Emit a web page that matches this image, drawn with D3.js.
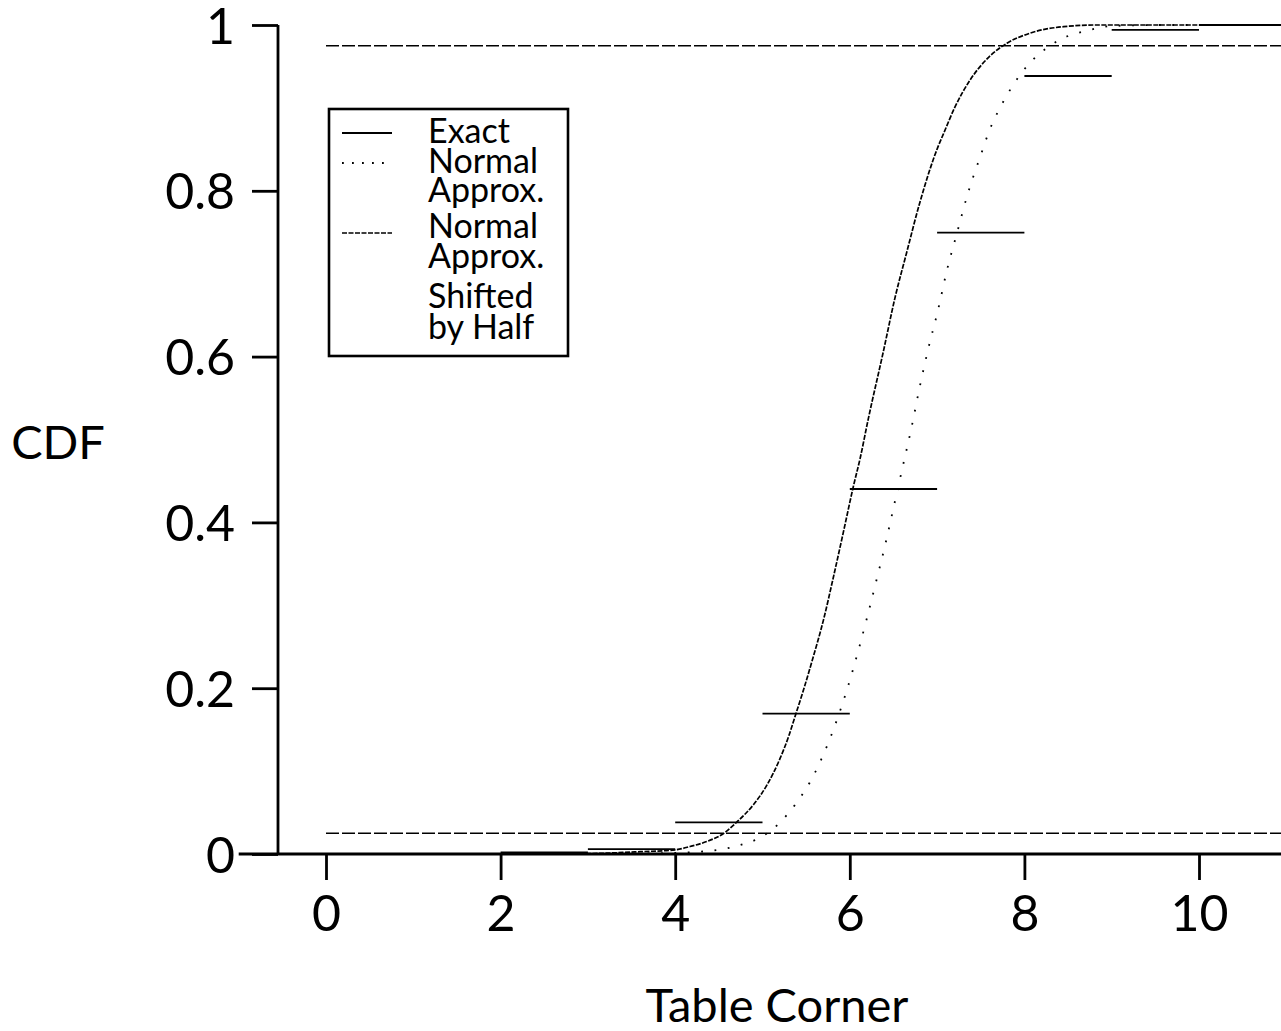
<!DOCTYPE html>
<html>
<head>
<meta charset="utf-8">
<script src="https://cdn.jsdelivr.net/npm/d3@7/dist/d3.min.js"></script>
<style>
  html, body { margin: 0; padding: 0; background: #fff; }
  svg { display: block; }
  text { font-family: Lato, "Open Sans", sans-serif; fill: #000; }
</style>
</head>
<body>
<svg id="chart" width="1281" height="1031"></svg>
<script>
// ---- data ----
const xTicks = [0, 2, 4, 6, 8, 10];
const yTicks = [0, 0.2, 0.4, 0.6, 0.8, 1];
const yTickLabels = ["0", "0.2", "0.4", "0.6", "0.8", "1"];

// exact CDF step values at k = 0..10
const stepK = [0, 1, 2, 3, 4, 5, 6, 7, 8, 9, 10];
const exactCdf = [0, 0, 0.002, 0.006, 0.0382, 0.1693, 0.4403, 0.7495, 0.9385, 0.994, 1.0];

// normal approximation shifted by half (dashed curve)
const shiftedX = [0, 2, 3, 3.6, 4.0, 4.17, 4.36, 4.57, 4.7, 4.9, 5.05, 5.2, 5.3, 5.37, 5.47, 5.56, 5.7, 5.81, 5.93, 6.04, 6.12, 6.21, 6.38, 6.52, 6.65, 6.8, 7.01, 7.07, 7.2, 7.38, 7.59, 7.8, 8.06, 8.45, 8.83, 9.5, 11];
const shiftedY = [0, 0, 0.0005, 0.0028, 0.005, 0.009, 0.015, 0.026, 0.038, 0.06, 0.083, 0.115, 0.142, 0.165, 0.198, 0.23, 0.283, 0.333, 0.39, 0.443, 0.478, 0.524, 0.604, 0.672, 0.725, 0.785, 0.853, 0.868, 0.9, 0.934, 0.961, 0.978, 0.99, 0.998, 1, 1, 1];

// normal approximation (dotted curve)
const normalX = [0, 3, 3.8, 4.17, 4.48, 4.63, 4.77, 4.92, 5.17, 5.37, 5.54, 5.61, 6.03, 6.19, 6.3, 6.41, 6.51, 6.61, 6.71, 6.8, 6.9, 7.01, 7.11, 7.23, 7.35, 7.5, 7.6, 7.73, 7.88, 8.06, 8.17, 8.42, 8.71, 9.01, 9.5, 11];
const normalY = [0, 0, 0.0008, 0.002, 0.0048, 0.0076, 0.0117, 0.017, 0.035, 0.059, 0.086, 0.1, 0.22, 0.282, 0.328, 0.375, 0.422, 0.469, 0.516, 0.563, 0.61, 0.656, 0.703, 0.75, 0.796, 0.843, 0.873, 0.902, 0.929, 0.954, 0.965, 0.983, 0.993, 0.9988, 1, 1];

// reference levels (dashed horizontal lines)
const refLevels = [0.025, 0.975];
const refStart = 0, refEnd = 11;

const legendItems = [
  { lines: ["Exact"], style: "solid" },
  { lines: ["Normal", "Approx."], style: "dotted" },
  { lines: ["Normal", "Approx.", "Shifted", "by Half"], style: "dashed" }
];
const xLabel = "Table Corner";
const yLabel = "CDF";

// ---- drawing ----
const svg = d3.select("#chart");
const x = d3.scaleLinear().domain([-1, 11]).range([238.7, 1286.3]);
const y = d3.scaleLinear().domain([0, 1]).range([854, 25]);
const ink = "#000";

const styles = {
  solid:  { dash: null, width: 1.8 },
  dotted: { dash: "1.8 11.6", width: 1.8 },
  dashed: { dash: "5 1.5", width: 1.7 }
};

// reference lines
svg.append("g").selectAll("line").data(refLevels).join("line")
  .attr("x1", x(refStart)).attr("x2", x(refEnd))
  .attr("y1", d => y(d)).attr("y2", d => y(d))
  .attr("stroke", ink).attr("stroke-width", 1.5)
  .attr("stroke-dasharray", "13 3");

// exact step function
svg.append("g").selectAll("line").data(stepK).join("line")
  .attr("x1", d => x(d)).attr("x2", d => x(d + 1))
  .attr("y1", (d, i) => y(exactCdf[i])).attr("y2", (d, i) => y(exactCdf[i]))
  .attr("stroke", ink).attr("stroke-width", styles.solid.width);

const line = d3.line().x(d => x(d[0])).y(d => y(d[1])).curve(d3.curveMonotoneX);

svg.append("path")
  .datum(normalX.map((v, i) => [v, normalY[i]]))
  .attr("d", line).attr("fill", "none")
  .attr("stroke", ink).attr("stroke-width", styles.dotted.width)
  .attr("stroke-dasharray", styles.dotted.dash);

svg.append("path")
  .datum(shiftedX.map((v, i) => [v, shiftedY[i]]))
  .attr("d", line).attr("fill", "none")
  .attr("stroke", ink).attr("stroke-width", styles.dashed.width)
  .attr("stroke-dasharray", styles.dashed.dash);

// axes
const fontSize = 50;
const xAxis = svg.append("g").attr("transform", "translate(0,854)")
  .call(d3.axisBottom(x).tickValues(xTicks).tickSize(26).tickPadding(15).tickFormat(d3.format("d")));
xAxis.select(".domain").attr("d", `M${x(-1)},0H${x(11)}`);
const yAxis = svg.append("g").attr("transform", "translate(278,0)")
  .call(d3.axisLeft(y).tickValues(yTicks).tickSize(26).tickPadding(17).tickFormat((d, i) => yTickLabels[i]));
yAxis.select(".domain").attr("d", `M0,${y(0)}V${y(1)}`);
[xAxis, yAxis].forEach(g => {
  g.select(".domain").attr("stroke", "#000").attr("stroke-width", 2.8);
  g.selectAll(".tick line").attr("stroke", "#000").attr("stroke-width", 2.8);
  g.selectAll(".tick text").attr("font-size", fontSize).attr("font-family", "Lato, sans-serif").attr("fill", "#000");
});
yAxis.selectAll(".tick text").attr("dy", "0.36em");

svg.append("text").attr("x", 777).attr("y", 1022).attr("text-anchor", "middle")
  .attr("font-size", 47).text(xLabel);
svg.append("text").attr("x", 58).attr("y", 459).attr("text-anchor", "middle")
  .attr("font-size", 47).text(yLabel);

// legend
const lg = svg.append("g");
lg.append("rect").attr("x", 329).attr("y", 109).attr("width", 239).attr("height", 247)
  .attr("fill", "#fff").attr("stroke", "#000").attr("stroke-width", 2.6);
const legendSampleY = [133, 163, 233];
const legendTextY = [[143], [173, 202], [238, 268, 308, 339]];
legendItems.forEach((it, i) => {
  const st = styles[it.style];
  lg.append("line").attr("x1", 342).attr("x2", 392)
    .attr("y1", legendSampleY[i]).attr("y2", legendSampleY[i])
    .attr("stroke", ink).attr("stroke-width", st.width)
    .attr("stroke-dasharray", it.style === "dotted" ? "1.8 8.2" : st.dash);
  it.lines.forEach((t, j) => {
    lg.append("text").attr("x", 428).attr("y", legendTextY[i][j])
      .attr("font-size", 34).text(t);
  });
});
</script>
</body>
</html>
